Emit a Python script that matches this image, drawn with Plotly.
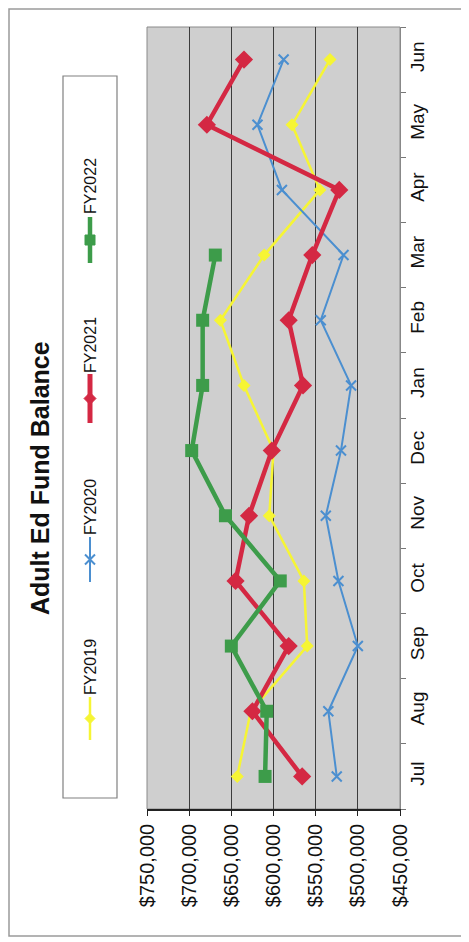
import plotly.graph_objects as go

months = ["Jul", "Aug", "Sep", "Oct", "Nov", "Dec", "Jan", "Feb", "Mar", "Apr", "May", "Jun"]
fy2019 = [643000, 627000, 560000, 564000, 605000, 600000, 635000, 663000, 611000, 545000, 578000, 533000]
fy2020 = [525000, 535000, 500000, 523000, 538000, 520000, 508000, 544000, 517000, 590000, 619000, 588000]
fy2021 = [566000, 625000, 582000, 645000, 629000, 602000, 565000, 582000, 554000, 522000, 679000, 635000]
fy2022 = [610000, 608000, 650000, 592000, 657000, 697000, 684000, 684000, 669000]
value_ticks = [750000, 700000, 650000, 600000, 550000, 500000, 450000]

YEL = "#f6f534"
BLU = "#4b8fd0"
RED = "#d42843"
GRN = "#3d9c4a"

fig = go.Figure()
fig.add_trace(go.Scatter(x=fy2019, y=months, mode="lines+markers", name="FY2019",
                         line=dict(color=YEL, width=2.5),
                         marker=dict(symbol="diamond", size=10, color=YEL)))
fig.add_trace(go.Scatter(x=fy2020, y=months, mode="lines+markers", name="FY2020",
                         line=dict(color=BLU, width=2),
                         marker=dict(symbol="x-thin", size=10, line=dict(color=BLU, width=2))))
fig.add_trace(go.Scatter(x=fy2021, y=months, mode="lines+markers", name="FY2021",
                         line=dict(color=RED, width=4.5),
                         marker=dict(symbol="diamond", size=14, color=RED)))
fig.add_trace(go.Scatter(x=fy2022, y=months[:len(fy2022)], mode="lines+markers", name="FY2022",
                         line=dict(color=GRN, width=4.5),
                         marker=dict(symbol="square", size=13, color=GRN)))

W, H = 469, 942
OFF = 8  # page body margin
L, R, T, B = 147, 400, 27, 809


def px(x):
    return (x - L) / (R - L)


def py(y):
    return (B - y) / (B - T)


shapes = []
# outer frame
shapes.append(dict(type="rect", xref="paper", yref="paper", x0=px(9), x1=px(463), y0=py(9), y1=py(936),
                   line=dict(color="#9a9a9a", width=1.5), layer="below"))
# plot border
shapes.append(dict(type="rect", xref="paper", yref="paper", x0=0, x1=1, y0=0, y1=1,
                   line=dict(color="#8a8a8a", width=1), layer="below"))
# legend box
shapes.append(dict(type="rect", xref="paper", yref="paper", x0=px(63), x1=px(117), y0=py(76), y1=py(798),
                   line=dict(color="#808080", width=1.2), fillcolor="white", layer="below"))

legend_items = [
    ("FY2022", GRN, 186, 217, 263, "square", 4.5),
    ("FY2021", RED, 345, 374, 423, "diamond", 5),
    ("FY2020", BLU, 507, 537, 582, "x", 2),
    ("FY2019", YEL, 667, 697, 740, "diamond", 2.5),
]
annotations = []
lx = px(90)
for name, col, tc, s0, s1, sym, lw in legend_items:
    annotations.append(dict(text=name, x=lx, y=py(tc), xref="paper", yref="paper", showarrow=False,
                            textangle=-90, xanchor="center", yanchor="middle",
                            font=dict(family="Liberation Sans", size=16, color="#111")))
    shapes.append(dict(type="line", xref="paper", yref="paper", x0=lx, x1=lx, y0=py(s0), y1=py(s1),
                       line=dict(color=col, width=lw)))
    cy = py((s0 + s1) / 2)
    if sym == "square":
        shapes.append(dict(type="rect", xref="paper", yref="paper", xsizemode="pixel", ysizemode="pixel",
                           xanchor=lx, yanchor=cy, x0=-5, x1=5, y0=-5, y1=5,
                           fillcolor=col, line=dict(color=col, width=1)))
    elif sym == "diamond":
        s = 6 if col == RED else 5
        shapes.append(dict(type="path", xref="paper", yref="paper", xsizemode="pixel", ysizemode="pixel",
                           xanchor=lx, yanchor=cy,
                           path=f"M0,{s} L{s},0 L0,{-s} L{-s},0 Z",
                           fillcolor=col, line=dict(color=col, width=1)))
    else:
        shapes.append(dict(type="path", xref="paper", yref="paper", xsizemode="pixel", ysizemode="pixel",
                           xanchor=lx, yanchor=cy,
                           path="M-5,-5 L5,5 M-5,5 L5,-5",
                           line=dict(color=col, width=2)))

annotations.append(dict(text="<b>Adult Ed Fund Balance</b>", x=px(40), y=py(478), xref="paper", yref="paper",
                        showarrow=False, textangle=-90, xanchor="center", yanchor="middle",
                        font=dict(family="Liberation Sans", size=25, color="#111")))

fig.update_layout(
    width=W - OFF, height=H - OFF,
    margin=dict(l=L - OFF, r=W - R, t=T - OFF, b=H - B, pad=0),
    paper_bgcolor="white",
    plot_bgcolor="#cfcfcf",
    showlegend=False,
    shapes=shapes,
    annotations=annotations,
    font=dict(family="Liberation Sans", color="#111"),
)
fig.update_xaxes(
    range=[750000, 450000], tickvals=value_ticks, tickformat="$,.0f", tickangle=-90,
    showgrid=True, gridcolor="#3c3c3c", gridwidth=1,
    ticks="outside", ticklen=5, tickcolor="#222",
    showline=True, linecolor="#222", linewidth=1.5,
    tickfont=dict(family="Liberation Sans", size=20, color="#111"),
    zeroline=False, fixedrange=True,
)
fig.update_yaxes(
    type="category", categoryorder="array", categoryarray=months, range=[-0.5, 11.5],
    side="right", tickangle=-90, showgrid=False,
    ticks="outside", ticklen=5, tickson="boundaries", tickcolor="#777",
    showline=True, linecolor="#888", linewidth=1,
    tickfont=dict(family="Liberation Sans", size=19, color="#111"),
    fixedrange=True,
)

fig.write_html("out.html")
